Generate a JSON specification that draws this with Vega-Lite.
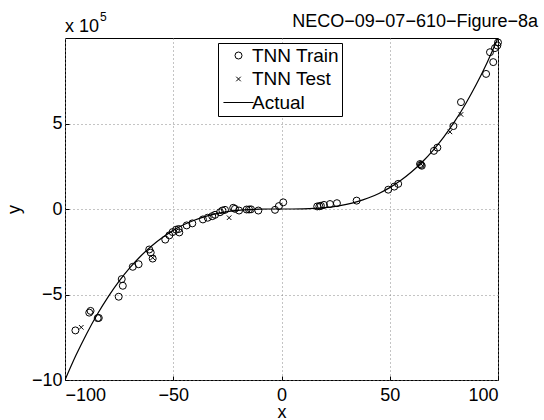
{
  "$schema": "https://vega.github.io/schema/vega-lite/v6.json",
  "width": 433,
  "height": 342,
  "autosize": {"type": "none"},
  "padding": {"left": 65, "top": 38, "right": 46, "bottom": 40},
  "background": "white",
  "config": {
    "font": "Liberation Sans",
    "view": {"stroke": "black", "strokeWidth": 1},
    "axis": {
      "grid": true,
      "gridColor": "#888",
      "gridDash": [1, 3],
      "gridWidth": 1,
      "domain": false,
      "ticks": true,
      "tickSize": -4,
      "tickColor": "black",
      "labelFontSize": 18,
      "labelColor": "black",
      "labelFont": "Liberation Sans",
      "titleFont": "Liberation Sans",
      "titleFontSize": 18,
      "titleFontWeight": "normal",
      "titleColor": "black"
    },
    "legend": {
      "orient": "none",
      "legendX": 153,
      "legendY": 5,
      "title": null,
      "strokeColor": "black",
      "fillColor": "white",
      "padding": 3,
      "symbolSize": 49,
      "symbolOffset": 8,
      "labelFontSize": 19,
      "labelFont": "Liberation Sans",
      "labelColor": "black",
      "labelOffset": 4,
      "rowPadding": 3.5,
      "symbolStrokeWidth": 1,
      "symbolStrokeColor": "black",
      "symbolFillColor": "transparent",
      "cornerRadius": 0
    }
  },
  "datasets": {
    "actual": [
      {"x": -100, "y": -1000000}, {"x": -95, "y": -857375}, {"x": -90, "y": -729000}, {"x": -85, "y": -614125},
      {"x": -80, "y": -512000}, {"x": -75, "y": -421875}, {"x": -70, "y": -343000}, {"x": -65, "y": -274625},
      {"x": -60, "y": -216000}, {"x": -55, "y": -166375}, {"x": -50, "y": -125000}, {"x": -45, "y": -91125},
      {"x": -40, "y": -64000}, {"x": -35, "y": -42875}, {"x": -30, "y": -27000}, {"x": -25, "y": -15625},
      {"x": -20, "y": -8000}, {"x": -15, "y": -3375}, {"x": -10, "y": -1000}, {"x": -5, "y": -125},
      {"x": 0, "y": 0}, {"x": 5, "y": 125}, {"x": 10, "y": 1000}, {"x": 15, "y": 3375}, {"x": 20, "y": 8000},
      {"x": 25, "y": 15625}, {"x": 30, "y": 27000}, {"x": 35, "y": 42875}, {"x": 40, "y": 64000},
      {"x": 45, "y": 91125}, {"x": 50, "y": 125000}, {"x": 55, "y": 166375}, {"x": 60, "y": 216000},
      {"x": 65, "y": 274625}, {"x": 70, "y": 343000}, {"x": 75, "y": 421875}, {"x": 80, "y": 512000},
      {"x": 85, "y": 614125}, {"x": 90, "y": 729000}, {"x": 95, "y": 857375}, {"x": 100, "y": 1000000}
    ],
    "points": [
      {"series": "TNN Train", "x": -95.2, "y": -710000},
      {"series": "TNN Train", "x": -88.8, "y": -606000},
      {"series": "TNN Train", "x": -88.2, "y": -596000},
      {"series": "TNN Train", "x": -84.9, "y": -638000},
      {"series": "TNN Train", "x": -84.4, "y": -637000},
      {"series": "TNN Train", "x": -75.2, "y": -513000},
      {"series": "TNN Train", "x": -73.8, "y": -410000},
      {"series": "TNN Train", "x": -73.3, "y": -449000},
      {"series": "TNN Train", "x": -68.7, "y": -338000},
      {"series": "TNN Train", "x": -66.0, "y": -323000},
      {"series": "TNN Train", "x": -61.1, "y": -237000},
      {"series": "TNN Train", "x": -60.4, "y": -255000},
      {"series": "TNN Train", "x": -59.5, "y": -290000},
      {"series": "TNN Train", "x": -53.7, "y": -179000},
      {"series": "TNN Train", "x": -51.8, "y": -154000},
      {"series": "TNN Train", "x": -50.3, "y": -135000},
      {"series": "TNN Train", "x": -48.7, "y": -121000},
      {"series": "TNN Train", "x": -47.5, "y": -117000},
      {"series": "TNN Train", "x": -47.2, "y": -137000},
      {"series": "TNN Train", "x": -43.8, "y": -96000},
      {"series": "TNN Train", "x": -41.2, "y": -84000},
      {"series": "TNN Train", "x": -36.3, "y": -61000},
      {"series": "TNN Train", "x": -34.1, "y": -51000},
      {"series": "TNN Train", "x": -32.0, "y": -42000},
      {"series": "TNN Train", "x": -30.7, "y": -34000},
      {"series": "TNN Train", "x": -28.4, "y": -19000},
      {"series": "TNN Train", "x": -27.3, "y": -9000},
      {"series": "TNN Train", "x": -26.1, "y": -5000},
      {"series": "TNN Train", "x": -22.3, "y": 7000},
      {"series": "TNN Train", "x": -21.5, "y": 1000},
      {"series": "TNN Train", "x": -19.6, "y": -9000},
      {"series": "TNN Train", "x": -16.1, "y": -3000},
      {"series": "TNN Train", "x": -15.0, "y": -3000},
      {"series": "TNN Train", "x": -14.1, "y": -2000},
      {"series": "TNN Train", "x": -10.7, "y": -9000},
      {"series": "TNN Train", "x": -3.0, "y": -5000},
      {"series": "TNN Train", "x": -1.2, "y": 17000},
      {"series": "TNN Train", "x": 0.8, "y": 39000},
      {"series": "TNN Train", "x": 16.5, "y": 15000},
      {"series": "TNN Train", "x": 17.5, "y": 16000},
      {"series": "TNN Train", "x": 18.2, "y": 19000},
      {"series": "TNN Train", "x": 19.6, "y": 24000},
      {"series": "TNN Train", "x": 22.4, "y": 29000},
      {"series": "TNN Train", "x": 25.6, "y": 34000},
      {"series": "TNN Train", "x": 34.7, "y": 49000},
      {"series": "TNN Train", "x": 49.3, "y": 113000},
      {"series": "TNN Train", "x": 52.1, "y": 131000},
      {"series": "TNN Train", "x": 53.9, "y": 147000},
      {"series": "TNN Train", "x": 64.0, "y": 263000},
      {"series": "TNN Train", "x": 64.8, "y": 253000},
      {"series": "TNN Train", "x": 64.4, "y": 258000},
      {"series": "TNN Train", "x": 70.4, "y": 340000},
      {"series": "TNN Train", "x": 72.0, "y": 359000},
      {"series": "TNN Train", "x": 79.4, "y": 485000},
      {"series": "TNN Train", "x": 82.9, "y": 625000},
      {"series": "TNN Train", "x": 94.5, "y": 790000},
      {"series": "TNN Train", "x": 96.3, "y": 917000},
      {"series": "TNN Train", "x": 97.8, "y": 859000},
      {"series": "TNN Train", "x": 98.6, "y": 941000},
      {"series": "TNN Train", "x": 99.7, "y": 956000},
      {"series": "TNN Train", "x": 100, "y": 974000},
      {"series": "TNN Test", "x": -92.5, "y": -692000},
      {"series": "TNN Test", "x": -59.5, "y": -285000},
      {"series": "TNN Test", "x": -24.2, "y": -51000},
      {"series": "TNN Test", "x": 64.5, "y": 262000},
      {"series": "TNN Test", "x": 77.8, "y": 451000},
      {"series": "TNN Test", "x": 82.9, "y": 553000}
    ],
    "label": [{"x": -100, "y": 1000000}],
    "tlabel": [{"x": 100, "y": 1000000}]
  },
  "layer": [
    {
      "data": {"name": "actual"},
      "mark": {"type": "line", "color": "black", "strokeWidth": 1.2, "clip": true, "interpolate": "monotone"},
      "encoding": {
        "x": {"field": "x", "type": "quantitative", "scale": {"domain": [-100, 100], "nice": false, "zero": false},
              "axis": {"values": [-100, -50, 0, 50, 100], "title": "x", "labelPadding": 10, "titlePadding": -1}},
        "y": {"field": "y", "type": "quantitative", "scale": {"domain": [-1000000, 1000000], "nice": false, "zero": false},
              "axis": {"values": [-1000000, -500000, 0, 500000], "labelExpr": "format(datum.value/100000, 'd')", "title": "y", "labelPadding": 7, "titlePadding": 8}}
      }
    },
    {
      "data": {"name": "points"},
      "mark": {"type": "point", "filled": false, "color": "black", "strokeWidth": 1, "opacity": 1, "size": 49},
      "encoding": {
        "x": {"field": "x", "type": "quantitative"},
        "y": {"field": "y", "type": "quantitative"},
        "shape": {"field": "series", "type": "nominal",
                  "scale": {"domain": ["TNN Train", "TNN Test", "Actual"], "range": ["circle", "M-0.65,-0.65L0.65,0.65M-0.65,0.65L0.65,-0.65", "M-4.3,0L4.3,0"]}}
      }
    },
    {
      "data": {"name": "label"},
      "mark": {"type": "text", "text": "x 10", "align": "left", "baseline": "alphabetic", "fontSize": 18, "color": "black", "dy": -6},
      "encoding": {"x": {"field": "x", "type": "quantitative"}, "y": {"field": "y", "type": "quantitative"}}
    },
    {
      "data": {"name": "label"},
      "mark": {"type": "text", "text": "5", "align": "left", "baseline": "alphabetic", "fontSize": 12, "color": "black", "dx": 35, "dy": -17},
      "encoding": {"x": {"field": "x", "type": "quantitative"}, "y": {"field": "y", "type": "quantitative"}}
    },
    {
      "data": {"name": "tlabel"},
      "mark": {"type": "text", "text": "NECO−09−07−610−Figure−8a", "align": "right", "baseline": "alphabetic", "fontSize": 18, "color": "black", "dx": 40, "dy": -11},
      "encoding": {"x": {"field": "x", "type": "quantitative"}, "y": {"field": "y", "type": "quantitative"}}
    }
  ]
}
